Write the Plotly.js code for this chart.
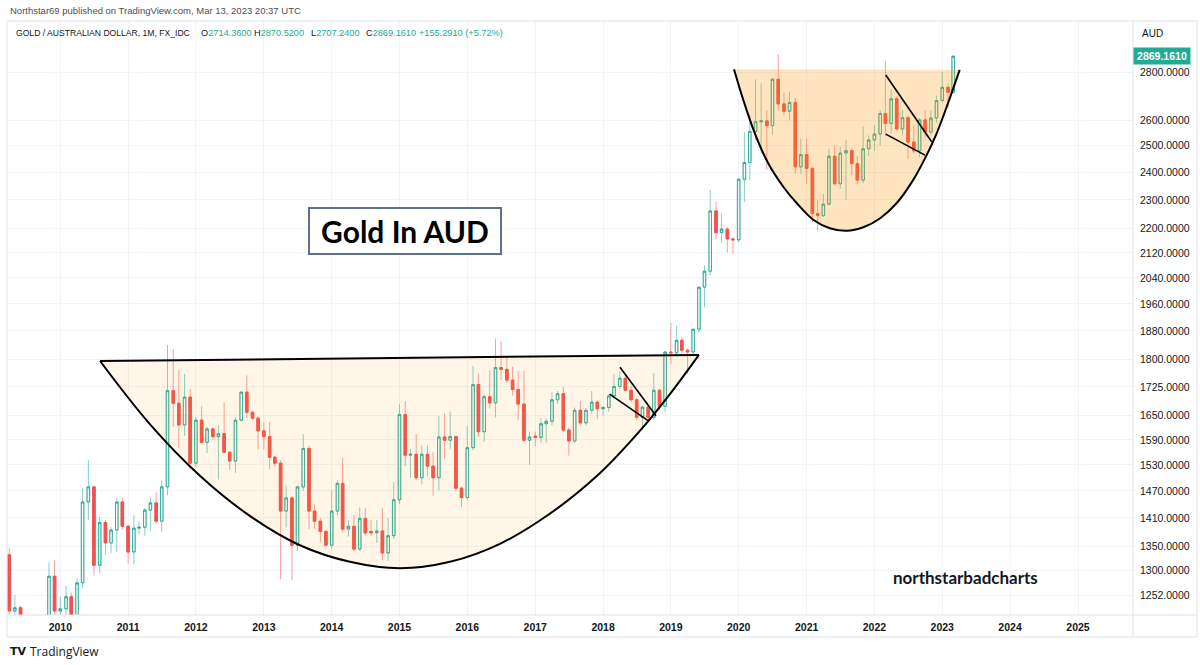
<!DOCTYPE html>
<html>
<head>
<meta charset="utf-8">
<script src="https://cdn.plot.ly/plotly-3.0.1.min.js"></script>
<style>
html,body{margin:0;padding:0;background:#ffffff;}
#chart{width:1200px;height:665px;}
</style>
</head>
<body>
<div id="chart"></div>
<script>
// ---------------- DATA (monthly GOLD / AUD, FX_IDC) ----------------
const months = [
  '2009-04','2009-05','2009-06','2009-07','2009-08','2009-09','2009-10','2009-11','2009-12',
  '2010-01','2010-02','2010-03','2010-04','2010-05','2010-06','2010-07','2010-08','2010-09','2010-10','2010-11','2010-12',
  '2011-01','2011-02','2011-03','2011-04','2011-05','2011-06','2011-07','2011-08','2011-09','2011-10','2011-11','2011-12',
  '2012-01','2012-02','2012-03','2012-04','2012-05','2012-06','2012-07','2012-08','2012-09','2012-10','2012-11','2012-12',
  '2013-01','2013-02','2013-03','2013-04','2013-05','2013-06','2013-07','2013-08','2013-09','2013-10','2013-11','2013-12',
  '2014-01','2014-02','2014-03','2014-04','2014-05','2014-06','2014-07','2014-08','2014-09','2014-10','2014-11','2014-12',
  '2015-01','2015-02','2015-03','2015-04','2015-05','2015-06','2015-07','2015-08','2015-09','2015-10','2015-11','2015-12',
  '2016-01','2016-02','2016-03','2016-04','2016-05','2016-06','2016-07','2016-08','2016-09','2016-10','2016-11','2016-12',
  '2017-01','2017-02','2017-03','2017-04','2017-05','2017-06','2017-07','2017-08','2017-09','2017-10','2017-11','2017-12',
  '2018-01','2018-02','2018-03','2018-04','2018-05','2018-06','2018-07','2018-08','2018-09','2018-10','2018-11','2018-12',
  '2019-01','2019-02','2019-03','2019-04','2019-05','2019-06','2019-07','2019-08','2019-09','2019-10','2019-11','2019-12',
  '2020-01','2020-02','2020-03','2020-04','2020-05','2020-06','2020-07','2020-08','2020-09','2020-10','2020-11','2020-12',
  '2021-01','2021-02','2021-03','2021-04','2021-05','2021-06','2021-07','2021-08','2021-09','2021-10','2021-11','2021-12',
  '2022-01','2022-02','2022-03','2022-04','2022-05','2022-06','2022-07','2022-08','2022-09','2022-10','2022-11','2022-12',
  '2023-01','2023-02','2023-03'
];
const openPrices = [
  1332,1222,1228,1150,1145,1130,1150,1160,1289,
  1222,1226,1249,1213,1276,1445,1479,1311,1400,1357,1384,1445,
  1392,1338,1388,1390,1427,1443,1403,1479,1715,1682,1627,1698,
  1534,1639,1584,1617,1598,1605,1560,1539,1639,1711,1659,1644,
  1612,1598,1548,1534,1425,1454,1352,1479,1569,1425,1403,1381,
  1352,1425,1487,1386,1392,1344,1409,1381,1378,1382,1336,1372,
  1450,1653,1553,1555,1500,1555,1527,1500,1597,1589,1598,1476,
  1455,1571,1731,1610,1699,1683,1777,1772,1743,1718,1680,1589,
  1599,1596,1630,1636,1691,1707,1614,1587,1664,1632,1664,1685,
  1668,1671,1701,1726,1748,1716,1691,1646,1672,1646,1716,1674,
  1820,1818,1853,1825,1820,1885,2011,2061,2261,2187,2199,2166,
  2163,2374,2436,2555,2594,2597,2578,2769,2666,2636,2672,2420,
  2466,2414,2252,2245,2285,2460,2358,2472,2481,2432,2371,2488,
  2522,2545,2627,2587,2687,2565,2610,2514,2480,2601,2553,2609,
  2680,2735,2714.36
];
const highPrices = [
  1346,1253,1232,1195,1175,1200,1205,1317,1321,
  1249,1270,1257,1285,1477,1541,1481,1412,1405,1390,1453,1455,
  1395,1416,1403,1431,1455,1468,1494,1840,1829,1770,1760,1719,
  1646,1674,1622,1620,1627,1684,1562,1646,1713,1756,1662,1648,
  1634,1634,1552,1541,1482,1458,1482,1604,1575,1440,1410,1385,
  1472,1494,1546,1405,1416,1433,1431,1405,1405,1431,1410,1490,
  1680,1688,1568,1605,1576,1576,1560,1649,1656,1661,1600,1480,
  1624,1781,1760,1705,1770,1858,1852,1806,1779,1768,1768,1610,
  1610,1643,1643,1711,1714,1725,1620,1671,1688,1670,1714,1690,
  1675,1705,1760,1766,1760,1728,1695,1675,1676,1762,1721,1823,
  1903,1895,1862,1830,1887,2012,2080,2335,2294,2253,2205,2172,
  2380,2553,2620,2769,2752,2640,2775,2878,2712,2716,2690,2527,
  2527,2420,2299,2322,2488,2500,2497,2522,2490,2460,2575,2540,
  2580,2640,2849,2726,2700,2641,2620,2580,2610,2640,2640,2700,
  2801,2752,2870.52
];
const lowPrices = [
  1200,1185,1140,1120,1115,1110,1130,1150,1200,
  1190,1190,1195,1200,1265,1405,1291,1295,1332,1336,1338,1385,
  1315,1313,1374,1372,1382,1398,1380,1460,1622,1570,1600,1520,
  1525,1580,1558,1590,1496,1558,1518,1511,1635,1644,1640,1567,
  1567,1520,1525,1283,1390,1281,1340,1470,1386,1386,1359,1350,
  1345,1415,1380,1370,1340,1340,1372,1371,1357,1321,1320,1365,
  1440,1527,1499,1494,1485,1503,1459,1470,1545,1567,1469,1434,
  1450,1565,1597,1585,1668,1646,1743,1735,1702,1639,1585,1530,
  1575,1583,1583,1625,1680,1610,1552,1583,1625,1625,1655,1641,
  1650,1660,1695,1720,1712,1685,1639,1614,1639,1640,1664,1659,
  1787,1810,1815,1760,1810,1875,1950,2047,2165,2153,2121,2117,
  2155,2292,2370,2522,2471,2408,2542,2640,2620,2600,2394,2394,
  2358,2223,2193,2240,2280,2350,2340,2299,2390,2355,2360,2460,
  2480,2500,2537,2550,2560,2540,2449,2470,2456,2530,2540,2590,
  2670,2650,2707.24
];
const closePrices = [
  1222,1228,1150,1145,1130,1150,1160,1289,1222,
  1226,1249,1213,1276,1445,1479,1311,1400,1357,1384,1445,1392,
  1338,1388,1390,1427,1443,1403,1479,1715,1682,1627,1698,1534,
  1639,1584,1617,1598,1605,1560,1539,1639,1711,1659,1644,1612,
  1598,1548,1534,1425,1454,1352,1479,1569,1425,1403,1381,1352,
  1425,1487,1386,1392,1344,1409,1378,1378,1382,1336,1372,1450,
  1653,1553,1555,1500,1555,1527,1500,1597,1589,1598,1476,1455,
  1571,1731,1610,1699,1683,1777,1772,1743,1718,1680,1589,1597,
  1596,1630,1636,1691,1707,1614,1587,1664,1632,1664,1685,1668,
  1671,1701,1726,1748,1716,1691,1646,1672,1646,1716,1674,1820,
  1818,1853,1825,1820,1885,2011,2061,2261,2187,2199,2166,2163,
  2374,2436,2555,2594,2597,2578,2769,2666,2636,2672,2420,2466,
  2414,2252,2245,2285,2460,2358,2472,2481,2432,2371,2488,2522,
  2545,2627,2587,2687,2565,2610,2514,2480,2601,2553,2609,2680,
  2735,2714,2869.161
];

// axis tick labels
const yearLabels = ['2010','2011','2012','2013','2014','2015','2016','2017','2018','2019','2020','2021','2022','2023','2024','2025'];
const priceTicks = [1252,1300,1350,1410,1470,1530,1590,1650,1725,1800,1880,1960,2040,2120,2200,2300,2400,2500,2600,2800];

// header / legend values
const symbolName = 'GOLD / AUSTRALIAN DOLLAR, 1M, FX_IDC';
const lastOpen = '2714.3600', lastHigh = '2870.5200', lastLow = '2707.2400', lastClose = '2869.1610';
const lastChange = '+155.2910 (+5.72%)';

// ---------------- hand drawings (date / price anchors) ----------------
const cup1ArcDates  = ['2010-08-03','2011-04-28','2012-01-24','2012-10-19','2013-07-14','2014-04-09','2015-01-04','2015-09-30','2016-06-25','2017-03-20','2017-12-16','2018-07-18','2018-12-27','2019-06-01'];
const cup1ArcPrices = [1795,1629,1504,1414,1352,1318,1305,1318,1355,1419,1511,1612,1706,1812];
const cup1RimDates  = ['2010-08-03','2019-06-01'];
const cup1RimPrices = [1795,1812];
const cup2ArcDates  = ['2019-12-07','2020-01-26','2020-03-28','2020-06-08','2020-08-28','2020-11-09','2021-02-07','2021-05-06','2021-08-05','2021-11-02','2022-02-01','2022-04-30','2022-07-28','2022-10-09','2022-12-02','2023-01-25','2023-04-05'];
const cup2ArcPrices = [2812,2682,2548,2433,2347,2288,2230,2202,2193,2205,2236,2288,2371,2464,2548,2654,2809];
const trendDates  = [['2018-04-02','2018-10-13'],['2018-02-05','2018-09-02'],['2022-03-03','2022-11-05'],['2022-03-03','2022-09-30']];
const trendPrices = [[1778,1650],[1706,1637],[2787,2515],[2545,2464]];

// ---------------- build ----------------
const DOWN = '#ef5350';
const bodyHigh = openPrices.map((o,i)=>Math.max(o,closePrices[i]));
const bodyLow  = openPrices.map((o,i)=>Math.min(o,closePrices[i]));

const traces = [];
traces.push({type:'scatter',mode:'lines',x:cup1ArcDates,y:cup1ArcPrices,fill:'toself',
  fillcolor:'rgba(255,152,0,0.09)',line:{color:'rgba(0,0,0,0)',width:0,shape:'spline'},hoverinfo:'skip'});
traces.push({type:'scatter',mode:'lines',x:cup2ArcDates,y:cup2ArcPrices,fill:'toself',
  fillcolor:'rgba(255,152,0,0.25)',line:{color:'rgba(0,0,0,0)',width:0,shape:'spline'},hoverinfo:'skip'});
traces.push({type:'candlestick',x:months,open:openPrices,high:highPrices,low:lowPrices,close:closePrices,
  increasing:{line:{color:'rgba(38,166,154,0.55)',width:1},fillcolor:'rgba(0,0,0,0)'},
  decreasing:{line:{color:'rgba(239,83,80,0.55)',width:1},fillcolor:'rgba(239,83,80,0.55)'},
  hoverinfo:'skip'});
traces.push({type:'candlestick',x:months,open:openPrices,high:bodyHigh,low:bodyLow,close:closePrices,
  increasing:{line:{color:'rgba(38,166,154,0.8)',width:1},fillcolor:'rgba(0,0,0,0)'},
  decreasing:{line:{color:DOWN,width:1},fillcolor:DOWN},
  hoverinfo:'skip'});
traces.push({type:'scatter',mode:'lines',x:cup1ArcDates,y:cup1ArcPrices,line:{color:'#000',width:2,shape:'spline',smoothing:1},hoverinfo:'skip'});
traces.push({type:'scatter',mode:'lines',x:cup1RimDates,y:cup1RimPrices,line:{color:'#000',width:2},hoverinfo:'skip'});
traces.push({type:'scatter',mode:'lines',x:cup2ArcDates,y:cup2ArcPrices,line:{color:'#000',width:2,shape:'spline'},hoverinfo:'skip'});
trendDates.forEach((d,i)=>{
  traces.push({type:'scatter',mode:'lines',x:d,y:trendPrices[i],line:{color:'#000',width:1.6},hoverinfo:'skip'});
});

const W=1200,H=665,ML=7,MR=67,MT=21,MB=50;
const PW=W-ML-MR, PH=H-MT-MB;
const px = v => (v-ML)/PW;
const py = v => (H-MB-v)/PH;

const teal = '#22ab94';
function legendItem(x, label, value){
  return {xref:'paper',yref:'paper',x:px(x),y:py(33),xanchor:'left',yanchor:'middle',showarrow:false,
    text:label+'<span style="color:'+teal+'">'+value+'</span>',font:{size:9.2,color:'#131722'}};
}

const layout = {
  width:W,height:H,
  margin:{l:ML,r:MR,t:MT,b:MB,pad:0},
  paper_bgcolor:'#ffffff',plot_bgcolor:'#ffffff',
  showlegend:false,hovermode:false,dragmode:false,
  font:{family:'Liberation Sans, Arial, sans-serif',color:'#131722',size:11},
  xaxis:{type:'date',range:['2009-03-20','2025-10-24'],
    tickvals:yearLabels.map(y=>y+'-01-01'),ticktext:yearLabels,
    showgrid:true,gridcolor:'#f0f3fa',gridwidth:1,ticks:'',zeroline:false,showline:false,
    tickfont:{size:10.5,color:'#131722',weight:'bold'},ticklabelstandoff:4,rangeslider:{visible:false},fixedrange:true},
  yaxis:{type:'log',side:'right',range:[Math.log10(1214.4),Math.log10(3028.6)],
    tickvals:priceTicks,ticktext:priceTicks.map(p=>p.toFixed(4)),
    showgrid:true,gridcolor:'#f0f3fa',gridwidth:1,ticks:'',zeroline:false,showline:false,
    tickfont:{size:10.5,color:'#131722'},ticklabelstandoff:6,fixedrange:true},
  shapes:[
    {type:'rect',xref:'paper',yref:'paper',x0:0,x1:px(1197),y0:py(637),y1:1,line:{color:'#e0e3eb',width:1},fillcolor:'rgba(0,0,0,0)',layer:'above'},
    {type:'line',xref:'paper',yref:'paper',x0:0,x1:px(1197),y0:0,y1:0,line:{color:'#e0e3eb',width:1}},
    {type:'line',xref:'paper',yref:'paper',x0:1,x1:1,y0:py(637),y1:1,line:{color:'#e0e3eb',width:1}}
  ],
  annotations:[
    {xref:'paper',yref:'paper',x:px(8),y:py(11),xanchor:'left',yanchor:'middle',showarrow:false,
     text:'Northstar69 published on TradingView.com, Mar 13, 2023 20:37 UTC',font:{size:9.5,color:'#4a4e59'}},
    {xref:'paper',yref:'paper',x:px(14),y:py(33),xanchor:'left',yanchor:'middle',showarrow:false,
     text:symbolName,font:{size:8.6,color:'#131722'}},
    legendItem(199,'O',lastOpen),
    legendItem(252,'H',lastHigh),
    legendItem(309,'L',lastLow),
    legendItem(363.5,'C',lastClose),
    legendItem(417,'',lastChange),
    {xref:'paper',yref:'paper',x:px(405),y:py(231),xanchor:'center',yanchor:'middle',showarrow:false,
     text:'Gold In AUD',font:{family:'Lato, Open Sans, sans-serif',size:30,weight:'bold',color:'#000000'},
     bgcolor:'#ffffff',bordercolor:'#5f7187',borderwidth:2,borderpad:4,width:182,height:36},
    {xref:'paper',yref:'paper',x:px(965),y:py(577),xanchor:'center',yanchor:'middle',showarrow:false,
     text:'northstarbadcharts',font:{family:'Lato, Open Sans, sans-serif',size:17,weight:'bold',color:'#131722'}},
    {xref:'paper',yref:'paper',x:px(1140),y:py(33),xanchor:'left',yanchor:'middle',showarrow:false,
     text:'AUD',font:{size:10,color:'#131722'}},
    {xref:'paper',yref:'y',x:1,y:Math.log10(parseFloat(lastClose)),xanchor:'left',yanchor:'middle',showarrow:false,
     text:lastClose,font:{size:10.5,color:'#ffffff',weight:'bold'},bgcolor:teal,borderpad:2,width:52},
    {xref:'paper',yref:'paper',x:px(8),y:py(651),xanchor:'left',yanchor:'middle',showarrow:false,
     text:'<b>TV</b>',font:{family:'DejaVu Sans, sans-serif',size:11,color:'#131722'}},
    {xref:'paper',yref:'paper',x:px(28),y:py(651),xanchor:'left',yanchor:'middle',showarrow:false,
     text:'TradingView',font:{family:'Open Sans, sans-serif',size:12,color:'#131722'}}
  ]
};

Plotly.newPlot('chart',traces,layout,{staticPlot:true,displayModeBar:false});
</script>
</body>
</html>
